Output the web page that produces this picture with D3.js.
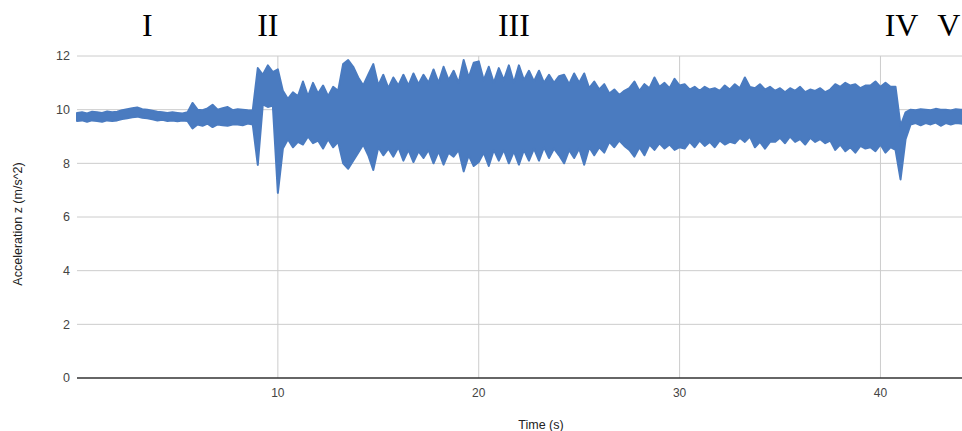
<!DOCTYPE html>
<html lang="en">
<head>
    <meta charset="UTF-8">
    <title>Acceleration z over time</title>
    <style>
        body {
            margin: 0;
            background-color: #FFFFFF;
            overflow: hidden;
        }
        svg text {
            font-family: Arial, "Liberation Sans", sans-serif;
        }
        .phase {
            font-family: "Liberation Serif", "Times New Roman", serif !important;
        }
    </style>
</head>
<body>
    <div id="chart"></div>

    <script src="https://d3js.org/d3.v7.min.js"></script>
    <script>
        // Chart data
        // samples every 0.25 s, upper and lower envelope of the z acceleration
        const sampleStep = 0.25;
        const accHigh = [
            9.88, 9.9, 9.86, 9.92, 9.9, 9.88, 9.93, 9.9, 9.92,
            9.98, 10.02, 10.05, 10.08, 10.02, 10.0, 9.96,
            9.92, 9.9, 9.88, 9.9, 9.88, 9.86, 9.9, 10.25,
            10.0, 9.98, 10.05, 10.18, 10.0, 10.05, 10.1, 9.98, 10.02, 10.0, 9.98, 9.97,
            11.55, 11.3, 11.65, 11.4, 11.5,
            10.7, 10.4, 10.65, 10.5,
            11.05, 10.5, 11.0,
            10.6, 10.9, 10.5, 10.85, 10.7,
            11.7, 11.85, 11.6,
            11.2, 10.9, 11.3,
            11.7,
            10.9, 11.3, 10.8, 11.2, 10.9,
            11.3, 10.9, 11.35, 10.95, 11.3, 11.0,
            11.5, 11.0, 11.6, 11.1, 11.45, 11.0,
            11.85, 11.2, 11.75, 11.8,
            11.1, 11.6, 11.0, 11.55,
            11.1, 11.65, 11.0, 11.65,
            11.1, 11.45, 11.05, 11.45,
            11.0, 11.3, 11.0, 11.25,
            11.3, 10.95, 11.35, 11.0,
            11.35, 10.8, 11.05, 10.75,
            10.95, 10.6, 10.75, 10.55, 10.7,
            10.8, 11.05, 10.7, 10.95,
            10.8, 11.2, 10.85, 11.0, 10.8, 11.15, 10.9,
            10.95, 10.75, 10.85, 10.7, 10.85, 10.75, 10.8, 10.7, 10.9, 10.75,
            10.95, 10.8, 11.2, 10.85,
            10.8, 10.95, 10.75, 10.85,
            10.7, 10.8, 10.65, 10.8, 10.7, 10.85, 10.65, 10.75, 10.7, 10.8, 10.65, 10.75,
            10.95, 10.85, 11.0, 10.9, 10.95, 10.8, 10.9,
            10.9, 11.05, 10.85, 11.0, 10.85, 10.85,
            9.4, 9.9,
            10.0, 9.98, 10.02, 10.0, 9.98, 10.03, 10.0, 10.0, 9.97, 10.02, 10.0, 10.0
        ];
        const accLow = [
            9.58, 9.6, 9.55, 9.6, 9.58, 9.55, 9.6, 9.58, 9.6,
            9.65, 9.68, 9.72, 9.74, 9.7, 9.68, 9.64,
            9.6, 9.62, 9.58, 9.6, 9.57, 9.6, 9.58, 9.3,
            9.45, 9.4, 9.48, 9.35, 9.45, 9.42, 9.4, 9.45, 9.45, 9.42, 9.48, 9.45,
            7.94, 10.2, 10.1, 10.15, 6.9,
            8.55, 8.9, 8.6, 8.8,
            8.7, 9.0, 8.75,
            8.85, 8.55, 8.9, 8.6, 8.8,
            8.0, 7.8, 8.1,
            8.4, 8.7, 8.3,
            7.75,
            8.6, 8.3, 8.55, 8.25, 8.6,
            8.1, 8.5, 8.05, 8.45, 8.2, 8.5,
            8.0, 8.45, 7.95, 8.4, 8.25, 8.5,
            7.7, 8.3, 7.9, 8.05,
            8.4, 7.9, 8.5, 8.1,
            8.5, 8.0, 8.45, 7.95,
            8.5, 8.1, 8.55, 8.1,
            8.6, 8.2, 8.55, 8.3,
            8.0, 8.5, 8.2, 8.55,
            7.95, 8.6, 8.3, 8.6,
            8.4, 8.8, 8.6, 8.85, 8.65,
            8.5, 8.25, 8.6, 8.3,
            8.7, 8.5, 8.75, 8.55, 8.7, 8.5, 8.6,
            8.55, 8.8, 8.6, 8.85, 8.65, 8.8, 8.6, 8.85, 8.7, 8.8,
            8.75, 8.95, 8.8, 9.0,
            8.6, 8.8, 8.55, 8.8,
            8.8, 8.95, 8.75, 9.0, 8.8, 8.9, 8.7, 8.95, 8.8, 8.9, 8.75, 8.85,
            8.5, 8.7, 8.45, 8.6, 8.4, 8.65, 8.55,
            8.6, 8.45, 8.7, 8.4, 8.6, 8.5,
            7.4, 8.9,
            9.45, 9.5, 9.42, 9.5, 9.45, 9.52, 9.4, 9.5, 9.45, 9.5, 9.48, 9.45
        ];
        const yTicks = [0, 2, 4, 6, 8, 10, 12];
        const xTicks = [10, 20, 30, 40];
        const phaseLabels = ["I", "II", "III", "IV", "V"];
        const phaseTimes = [3.5, 9.5, 21.75, 41.05, 43.4];

        const width = 962;
        const height = 431;

        const svg = d3.select("#chart")
            .append("svg")
            .attr("width", width)
            .attr("height", height);

        // plot area runs past the right edge of the window, as in the original
        const x = d3.scaleLinear().domain([0, 46.2]).range([77, 1005]);
        const y = d3.scaleLinear().domain([0, 12]).range([378, 56]);

        const samples = accHigh.map((h, i) => ({ t: i * sampleStep, hi: h, lo: accLow[i] }));

        // horizontal grid
        svg.append("g")
            .selectAll("line")
            .data(yTicks.filter(d => d > 0))
            .join("line")
            .attr("x1", x(0))
            .attr("x2", x(46.2))
            .attr("y1", d => y(d))
            .attr("y2", d => y(d))
            .attr("stroke", "#cccccc")
            .attr("stroke-width", 1);

        // vertical grid
        svg.append("g")
            .selectAll("line")
            .data(xTicks)
            .join("line")
            .attr("x1", d => x(d))
            .attr("x2", d => x(d))
            .attr("y1", y(12))
            .attr("y2", y(0))
            .attr("stroke", "#cccccc")
            .attr("stroke-width", 1);

        // signal band
        const band = d3.area()
            .x(d => x(d.t))
            .y0(d => y(d.lo))
            .y1(d => y(d.hi))
            .curve(d3.curveLinear);

        svg.append("path")
            .datum(samples)
            .attr("d", band)
            .attr("fill", "#4a7bc0")
            .attr("stroke", "#4a7bc0")
            .attr("stroke-width", 2)
            .attr("stroke-linejoin", "round");

        // zero line
        svg.append("line")
            .attr("x1", x(0))
            .attr("x2", x(46.2))
            .attr("y1", y(0))
            .attr("y2", y(0))
            .attr("stroke", "#333333")
            .attr("stroke-width", 1.5);

        // y tick labels
        svg.append("g")
            .selectAll("text")
            .data(yTicks)
            .join("text")
            .attr("x", 70)
            .attr("y", d => y(d))
            .attr("dy", "0.35em")
            .attr("text-anchor", "end")
            .attr("font-size", "12.5px")
            .attr("fill", "#444444")
            .text(d => d);

        // x tick labels
        svg.append("g")
            .selectAll("text")
            .data(xTicks)
            .join("text")
            .attr("x", d => x(d))
            .attr("y", 393)
            .attr("dy", "0.35em")
            .attr("text-anchor", "middle")
            .attr("font-size", "12px")
            .attr("fill", "#444444")
            .text(d => d);

        // axis titles
        svg.append("text")
            .attr("x", 541)
            .attr("y", 425)
            .attr("dy", "0.35em")
            .attr("text-anchor", "middle")
            .attr("font-size", "12.5px")
            .attr("fill", "#222222")
            .text("Time (s)");

        svg.append("text")
            .attr("transform", "translate(18,224) rotate(-90)")
            .attr("dy", "0.35em")
            .attr("text-anchor", "middle")
            .attr("font-size", "12.5px")
            .attr("fill", "#222222")
            .text("Acceleration z (m/s^2)");

        // phase numerals above the plot
        svg.append("g")
            .selectAll("text")
            .data(phaseLabels)
            .join("text")
            .attr("class", "phase")
            .attr("x", (d, i) => x(phaseTimes[i]))
            .attr("y", 36)
            .attr("text-anchor", "middle")
            .attr("font-size", "32px")
            .attr("fill", "#000000")
            .text(d => d);
    </script>
</body>
</html>
